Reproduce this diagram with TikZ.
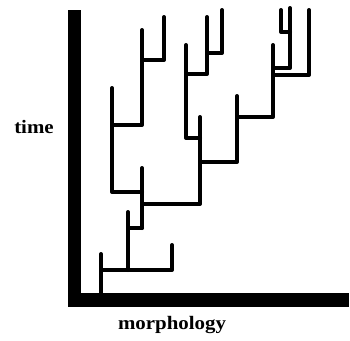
\documentclass[tikz,border=0pt]{standalone}
\usepackage{fontspec}
\setmainfont{Liberation Serif}[FakeStretch=1.1]
\begin{document}
\begin{tikzpicture}[x=1pt,y=-1pt,
  br/.style={line width=4pt,line cap=round,line join=round},
  lbl/.style={font=\fontsize{19}{22}\selectfont\bfseries,inner sep=0pt}]
\useasboundingbox (0,0) rectangle (350,340);
% axes
\fill (68,10) rectangle (81,307);
\fill (68,293) rectangle (349,307);
\node[lbl] (time) at (34,127) {time};
\node[lbl] (morph) at (172,325) {morphology};
% tree
\draw[br] (101,293) -- (101,254);
\draw[br] (101,270) -- (172,270) -- (172,245);
\draw[br] (128,270) -- (128,212);
\draw[br] (128,228) -- (142,228);
\draw[br] (142,228) -- (142,168);
\draw[br] (142,192) -- (112,192) -- (112,88);
\draw[br] (112,125) -- (142,125) -- (142,30);
\draw[br] (142,60) -- (164,60) -- (164,17);
\draw[br] (142,204) -- (200,204) -- (200,117);
\draw[br] (200,138) -- (186,138) -- (186,45);
\draw[br] (186,74) -- (207,74) -- (207,17);
\draw[br] (207,53) -- (222,53) -- (222,10);
\draw[br] (200,162) -- (237,162) -- (237,96);
\draw[br] (237,117) -- (273,117) -- (273,45);
\draw[br] (273,68) -- (290,68) -- (290,8);
\draw[br] (290,32) -- (281,32) -- (281,10);
\draw[br] (273,75) -- (309,75) -- (309,10);
\end{tikzpicture}
\end{document}
